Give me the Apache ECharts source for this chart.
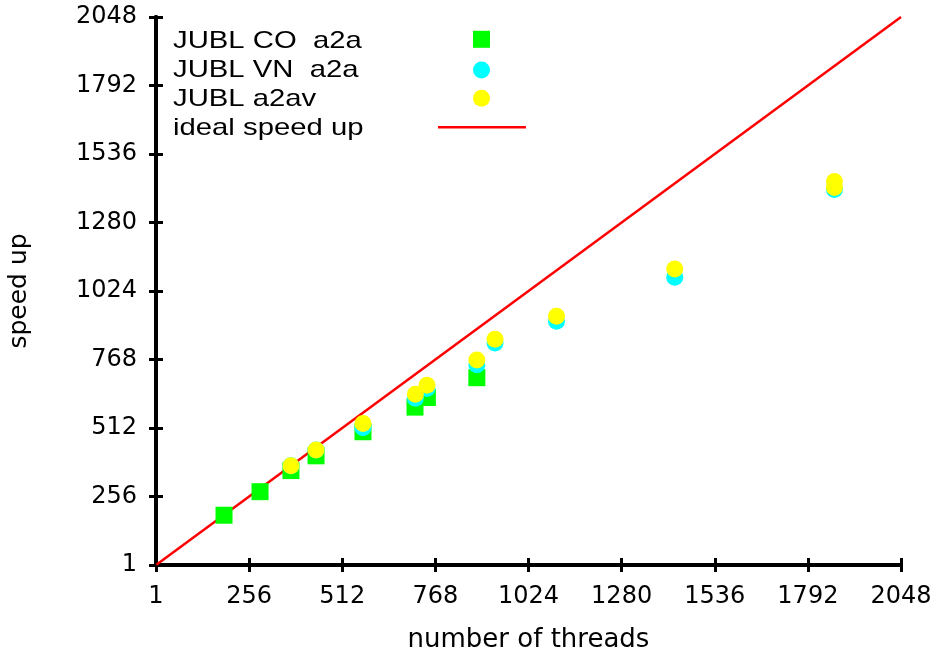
<!DOCTYPE html>
<html>
<head>
<meta charset="utf-8">
<script src="https://cdn.jsdelivr.net/npm/echarts@6/dist/echarts.min.js"></script>
<style>
  html, body { margin: 0; padding: 0; background: #fff; overflow: hidden; }
  #chart { width: 939px; height: 654px; }
</style>
</head>
<body>
<div id="chart"></div>
<script>
// Thread counts and measured speed-ups for each JUBL variant
const coThreads   = [187, 286, 371, 440, 569, 712, 746, 882];
const coSpeedup   = [186, 274, 353, 408, 498, 590, 626, 700];

const vnThreads   = [371, 440, 569, 713, 745, 882, 932, 1101, 1426, 1865];
const vnSpeedup   = [371, 430, 513, 623, 660, 748, 830, 911, 1075, 1403];

const avThreads   = [371, 440, 569, 713, 745, 882, 932, 1101, 1426, 1865, 1865];
const avSpeedup   = [371, 430, 529, 638, 672, 766, 844, 930, 1106, 1433, 1411];

// Ideal linear scaling endpoints
const idealThreads = [1, 2048];
const idealSpeedup = [1, 2048];

// Axis tick values (first tick is shown as 1)
const tickValues = [1, 256, 512, 768, 1024, 1280, 1536, 1792, 2048];

const legendNames = ['JUBL CO  a2a', 'JUBL VN  a2a', 'JUBL a2av', 'ideal speed up'];

const LABEL_FONT = 'DejaVu Sans';
const LEGEND_FONT = 'Liberation Sans';
const pairs = (xs, ys) => xs.map((x, i) => [x, ys[i]]);
const tickLabel = v => (v === 0 ? String(tickValues[0]) : String(v));

const axisCommon = {
  type: 'value', min: 0, max: 2048, interval: 256,
  splitLine: { show: false },
  axisLine: { show: true, lineStyle: { color: '#000', width: 4 } },
  axisTick: { show: true, inside: true, length: 7, lineStyle: { color: '#000', width: 3 } }
};

const chart = echarts.init(document.getElementById('chart'), null, { renderer: 'canvas' });

// Key: text on the left, sample mark on the right
const legendRows = [41.3, 70.3, 99.5, 128.5];
const legendGraphics = [];
legendNames.forEach((name, i) => {
  legendGraphics.push({
    type: 'text', x: 173, y: legendRows[i], scaleX: 1.22, originX: 0,
    style: { text: name, fill: '#000', font: '24px "' + LEGEND_FONT + '"', verticalAlign: 'middle' }
  });
});
legendGraphics.push(
  { type: 'rect', shape: { x: 473, y: 39.3 - 8.5, width: 17, height: 17 }, style: { fill: '#00ff00' } },
  { type: 'circle', shape: { cx: 481.5, cy: 70, r: 8.5 }, style: { fill: '#00ffff' } },
  { type: 'circle', shape: { cx: 481.5, cy: 98.3, r: 8.5 }, style: { fill: '#ffff00' } },
  { type: 'line', shape: { x1: 438, y1: 127.3, x2: 526, y2: 127.3 }, style: { stroke: '#ff0000', lineWidth: 2.5 } }
);

chart.setOption({
  animation: false,
  backgroundColor: '#fff',
  grid: { left: 156, width: 745, top: 17, height: 548, containLabel: false, outerBoundsMode: 'none' },
  xAxis: [
    Object.assign({}, axisCommon, {
      position: 'bottom',
      name: 'number of threads', nameLocation: 'middle', nameGap: 62,
      nameTextStyle: { color: '#000', fontFamily: LABEL_FONT, fontSize: 26 },
      axisLabel: { color: '#000', fontFamily: LABEL_FONT, fontSize: 24, margin: 20, formatter: tickLabel }
    }),
    Object.assign({}, axisCommon, { position: 'top', axisLabel: { show: false } })
  ],
  yAxis: [
    Object.assign({}, axisCommon, {
      position: 'left',
      name: 'speed up', nameLocation: 'middle', nameGap: 124, nameRotate: 90,
      nameTextStyle: { color: '#000', fontFamily: LABEL_FONT, fontSize: 25 },
      axisLabel: { color: '#000', fontFamily: LABEL_FONT, fontSize: 24, margin: 19, formatter: tickLabel }
    }),
    Object.assign({}, axisCommon, { position: 'right', axisLabel: { show: false } })
  ],
  series: [
    {
      name: legendNames[3], type: 'line', data: pairs(idealThreads, idealSpeedup),
      showSymbol: false, lineStyle: { color: '#ff0000', width: 2.5 }, z: 1
    },
    {
      name: legendNames[0], type: 'scatter', data: pairs(coThreads, coSpeedup),
      symbol: 'rect', symbolSize: 17, itemStyle: { color: '#00ff00', opacity: 1 }, z: 2
    },
    {
      name: legendNames[1], type: 'scatter', data: pairs(vnThreads, vnSpeedup),
      symbol: 'circle', symbolSize: 17, itemStyle: { color: '#00ffff', opacity: 1 }, z: 3
    },
    {
      name: legendNames[2], type: 'scatter', data: pairs(avThreads, avSpeedup),
      symbol: 'circle', symbolSize: 17, itemStyle: { color: '#ffff00', opacity: 1 }, z: 4
    }
  ],
  graphic: legendGraphics
});
</script>
</body>
</html>
